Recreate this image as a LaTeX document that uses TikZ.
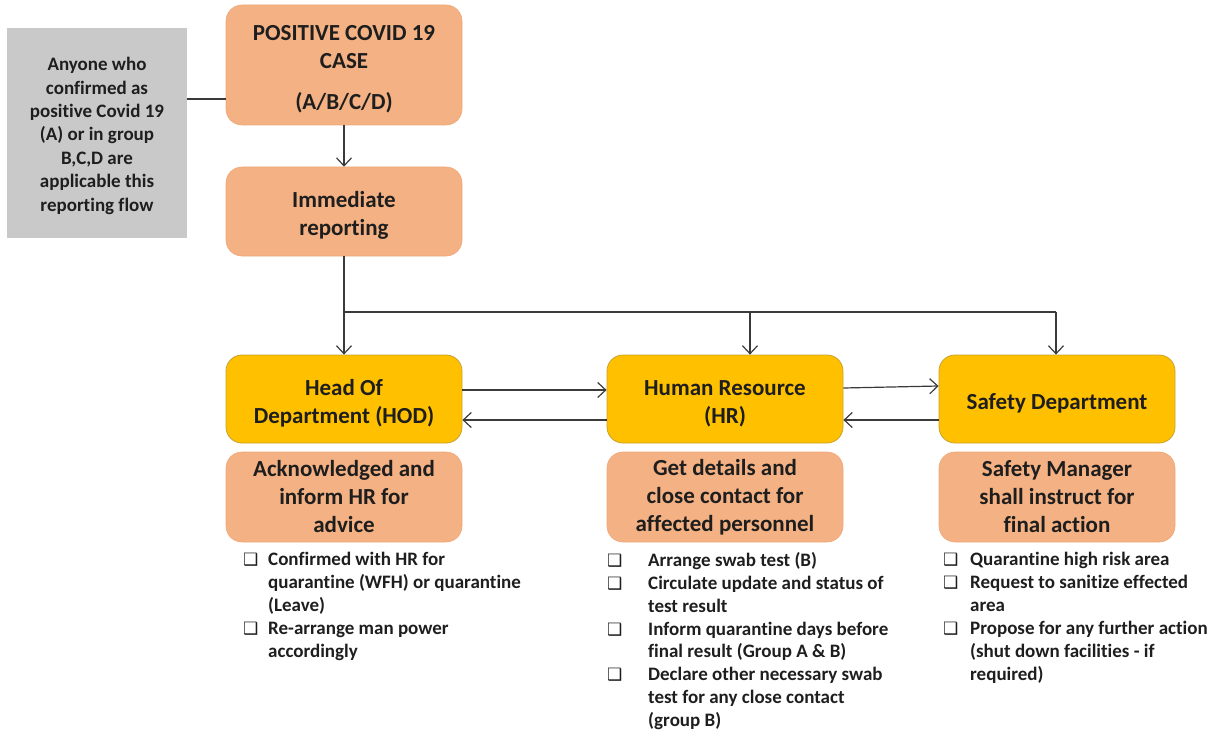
\documentclass[tikz,border=0pt]{standalone}
\usepackage{fontspec}
\setmainfont{Carlito}[Ligatures=NoCommon]
\newfontfamily\dvfont{DejaVu Sans}
\usetikzlibrary{arrows.meta,calc}
\definecolor{orng}{HTML}{F4B183}
\definecolor{orngline}{HTML}{F0A878}
\definecolor{gold}{HTML}{FFC000}
\definecolor{goldline}{HTML}{C9A22A}
\definecolor{graybox}{HTML}{C9C9C9}
\definecolor{ln}{HTML}{3A3A3A}
\definecolor{txt}{HTML}{1E1E1E}
\newcommand{\cbx}{{\dvfont\fontsize{17}{17}\selectfont\char"2751}}
\newcommand{\li}[2]{\makebox[#1][l]{\cbx}#2}
\newcommand{\lc}[2]{\hspace*{#1}#2}
\newcommand{\dn}[1]{\rule{0pt}{#1}}
\tikzset{
  box/.style={rounded corners=16pt, minimum width=236pt, inner sep=0pt, align=center,
    font=\bfseries\fontsize{23}{28}\selectfont, text=txt},
  obox/.style={box, fill=orng, draw=orngline, line width=0.6pt},
  ybox/.style={box, fill=gold, draw=goldline, line width=0.8pt, minimum height=88pt},
  gbox/.style={fill=graybox, inner sep=0pt, align=center, minimum width=180pt, minimum height=210pt,
    font=\bfseries\fontsize{19}{23.4}\selectfont, text=txt},
  lst/.style={anchor=north west, inner sep=0pt, align=left,
    font=\bfseries\fontsize{19}{22.9}\selectfont, text=txt},
  conn/.style={draw=ln, line width=1.2pt},
  arr/.style={conn, -{Straight Barb[length=8pt,width=15pt]}}
}
\begin{document}
\begin{tikzpicture}[x=1pt,y=-1pt]
\useasboundingbox (0,0) rectangle (1227,733);
\node[gbox] (gray) at (97,133) {\dn{19pt}Anyone who\\confirmed as\\positive Covid 19\\(A) or in group\\B,C,D are\\applicable this\\reporting flow};
\node[obox, minimum height=120pt] (pos) at (344,65) {\dn{23pt}POSITIVE COVID 19\\CASE\\[13pt](A/B/C/D)};
\node[obox, minimum height=89pt] (imm) at (344,211.5) {\dn{24.5pt}Immediate\\reporting};
\node[ybox] (hod) at (344,399) {\dn{24.5pt}Head Of\\Department (HOD)};
\node[ybox] (hr) at (725,399) {\dn{23.5pt}Human Resource\\(HR)};
\node[ybox] (saf) at (1057,399) {\dn{24pt}Safety Department};
\node[obox, minimum height=90pt] (hods) at (344,497) {Acknowledged and\\inform HR for\\advice};
\node[obox, minimum height=90pt] (hrs) at (725,497) {Get details and\\close contact for\\affected personnel};
\node[obox, minimum height=90pt] (safs) at (1057,497) {Safety Manager\\shall instruct for\\final action};

\node[lst] (hodl) at (243,552) {\li{25pt}{Confirmed with HR for}\\\lc{25pt}{quarantine (WFH) or quarantine}\\\lc{25pt}{(Leave)}\\\li{25pt}{Re-arrange man power}\\\lc{25pt}{accordingly}};
\node[lst] (hrl) at (607,552) {\li{41pt}{Arrange swab test (B)}\\\li{41pt}{Circulate update and status of}\\\lc{41pt}{test result}\\\li{41pt}{Inform quarantine days before}\\\lc{41pt}{final result (Group A \& B)}\\\li{41pt}{Declare other necessary swab}\\\lc{41pt}{test for any close contact}\\\lc{41pt}{(group B)}};
\node[lst] (safl) at (943,552) {\li{27pt}{Quarantine high risk area}\\\li{27pt}{Request to sanitize effected}\\\lc{27pt}{area}\\\li{27pt}{Propose for any further action}\\\lc{27pt}{(shut down facilities - if}\\\lc{27pt}{required)}};

\coordinate (l1) at (200,99);
\draw[conn] (gray.east |- l1) -- (pos.west |- l1);
\draw[arr] (pos.south) -- (imm.north);
\draw[arr] (imm.south) -- (hod.north);
\coordinate (j) at (344,312);
\coordinate (jm) at (750,312);
\coordinate (jr) at (1056,312);
\draw[conn] (j) -- (jr);
\draw[arr] (jm) -- (jm |- hr.north);
\draw[arr] (jr) -- (jr |- saf.north);
\draw[arr] ([yshift=9pt]hod.east) -- ([yshift=9pt]hr.west);
\draw[arr] ([yshift=-21pt]hr.west) -- ([yshift=-21pt]hod.east);
\draw[arr] ([yshift=11pt]hr.east) -- ([yshift=13pt]saf.west);
\draw[arr] ([yshift=-21pt]saf.west) -- ([yshift=-21pt]hr.east);
\end{tikzpicture}
\end{document}
